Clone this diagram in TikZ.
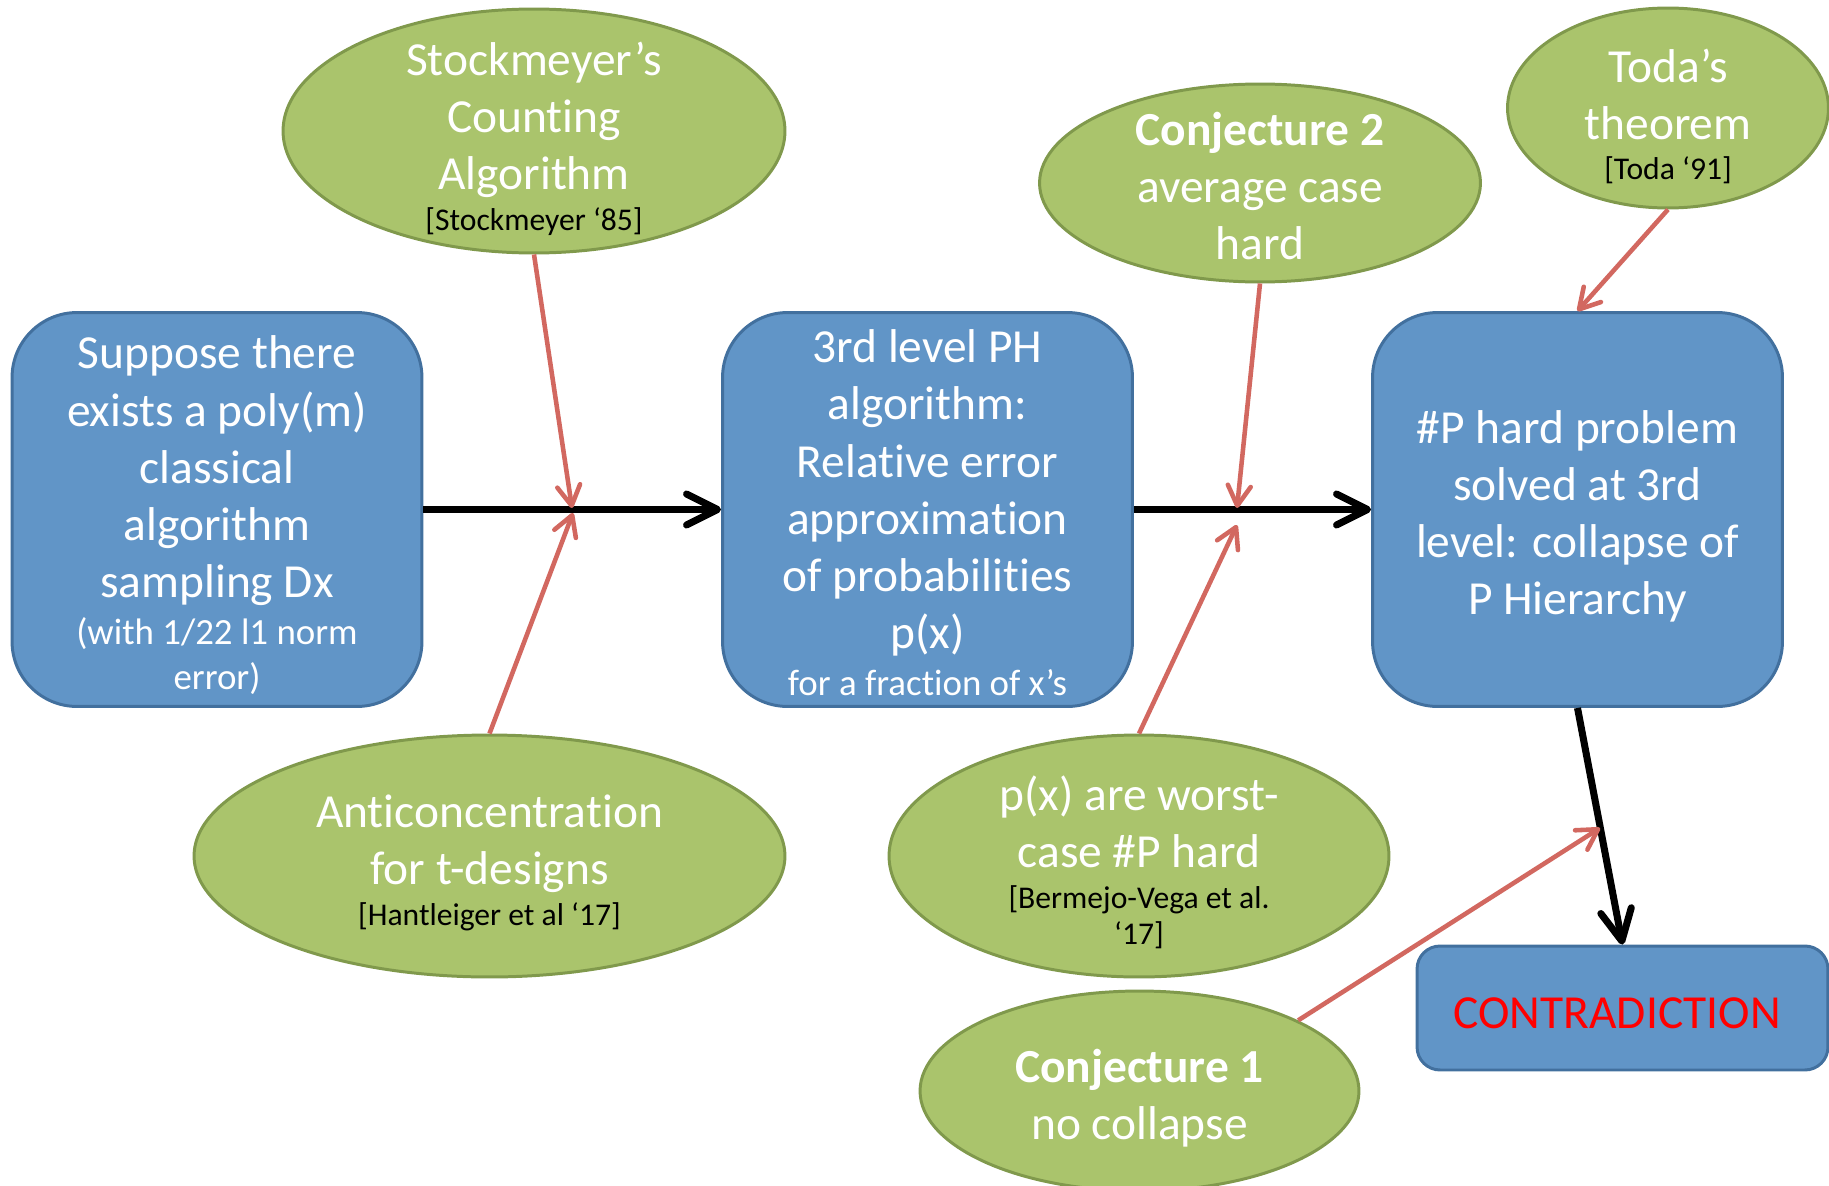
\documentclass[tikz,border=0pt]{standalone}
\usepackage{fontspec}
\setmainfont{Carlito}[Ligatures=NoCommon]
\usepackage{tikz}
\usetikzlibrary{positioning}
\usetikzlibrary{shapes.geometric}
\usetikzlibrary{arrows.meta}
\usepackage{xcolor}

\definecolor{claimblue}{RGB}{97,149,199}
\definecolor{claimedge}{RGB}{66,112,158}
\definecolor{factgreen}{RGB}{170,196,108}
\definecolor{factedge}{RGB}{128,153,76}
\definecolor{refred}{RGB}{210,104,96}

\newcommand{\bigline}{\fontsize{27}{32.5}\selectfont}
\newcommand{\smallline}{\fontsize{21}{25}\selectfont}
\newcommand{\citeline}{\fontsize{18}{21}\selectfont}

\begin{document}
\begin{tikzpicture}[x=0.02cm, y=-0.02cm,
  claim/.style={draw=claimedge, fill=claimblue, line width=1.7,
    rounded corners=1.3cm, minimum width=8.2cm, minimum height=7.88cm},
  claimtext/.style={text=white, align=center, font=\bigline},
  fact/.style={draw=factedge, fill=factgreen, line width=1.7,
    ellipse, inner sep=0pt},
  facttext/.style={text=white, align=center, font=\bigline},
  implies/.style={line width=4,
    -{Straight Barb[length=0.62cm, width=0.62cm, line cap=round, line join=round]}},
  uses/.style={draw=refred, line width=2.6,
    -{Straight Barb[length=0.4cm, width=0.46cm, line cap=round, line join=round]}}]

\useasboundingbox (0,0) rectangle (1829,1186);

\node[claim] (suppose) at (217,509.5) {};
\node[claimtext] (suppose-txt)
  at (217,515.5) {
    Suppose there\\exists a poly(m)\\classical\\algorithm\\sampling Dx\\[-5.5pt]
    {\smallline (with 1/22 l1 norm}\\[-6.8pt]
    {\smallline error)}
  };

\node[claim] (phalg) at (927.5,509.5) {};
\node[claimtext] (phalg-txt)
  at (927.5,513) {
    3rd level PH\\algorithm:\\Relative error\\approximation\\of probabilities\\p(x)\\[-5.5pt]
    {\smallline for a fraction of x’s}
  };

\node[claim] (phard) at (1577.5,509.5) {};
\node[claimtext] (phard-txt)
  at (1577.5,516) {
    \#P hard problem\\solved at 3rd\\level: collapse of\\P Hierarchy
  };

\node[claim, minimum width=8.22cm, minimum height=2.48cm,
  rounded corners=0.46cm] (contra) at (1622.5,1008) {};
\node[claimtext, text=red] (contra-txt)
  at (1622.5,1013) {
    CONTRADICTION
  };

\node[fact, minimum width=10.04cm, minimum height=4.88cm] (stock) at (534,131) {};
\node[facttext] (stock-txt)
  at (534,138.5) {
    Stockmeyer’s\\Counting\\Algorithm\\[-9.4pt]
    {\citeline\color{black} [Stockmeyer ‘85]}
  };

\node[fact, minimum width=8.82cm, minimum height=3.96cm] (conjtwo) at (1260,183) {};
\node[facttext] (conjtwo-txt)
  at (1260,186) {
    \textbf{Conjecture 2}\\average case\\hard
  };

\node[fact, minimum width=6.42cm, minimum height=4cm] (toda) at (1668,108) {};
\node[facttext] (toda-txt)
  at (1668,116.5) {
    Toda’s\\theorem\\[-9.4pt]
    {\citeline\color{black} [Toda ‘91]}
  };

\node[fact, minimum width=11.82cm, minimum height=4.84cm] (anti) at (489.5,856) {};
\node[facttext] (anti-txt)
  at (489.5,863) {
    Anticoncentration\\for t-designs\\[-9.4pt]
    {\citeline\color{black} [Hantleiger et al ‘17]}
  };

\node[fact, minimum width=10cm, minimum height=4.84cm] (worst) at (1139,856) {};
\node[facttext] (worst-txt)
  at (1139,862) {
    p(x) are worst-\\case \#P hard\\[-9.4pt]
    {\citeline\color{black} [Bermejo-Vega et al.}\\[-12pt]
    {\citeline\color{black} ‘17]}
  };

\node[fact, minimum width=8.78cm, minimum height=4cm] (conjone) at (1139.5,1091) {};
\node[facttext] (conjone-txt)
  at (1139.5,1098) {
    \textbf{Conjecture 1}\\no collapse
  };

\coordinate (hitA) at (572,508);
\coordinate (hitB) at (573,513);
\coordinate (hitC) at (1237,508);
\coordinate (hitD) at (1237,525);
\coordinate (hitE) at (1600,828);

\draw[implies] (suppose) to (phalg);
\draw[implies] (phalg) to (phard);
\draw[implies] (phard.south) to (contra.north);

\draw[uses] (stock.south) to (hitA);
\draw[uses] (anti.north) to (hitB);
\draw[uses] (conjtwo.south) to (hitC);
\draw[uses] (worst.north) to (hitD);
\draw[uses] (toda.south) to (phard.north);
\draw[uses] (conjone.24) to (hitE);

\end{tikzpicture}
\end{document}
